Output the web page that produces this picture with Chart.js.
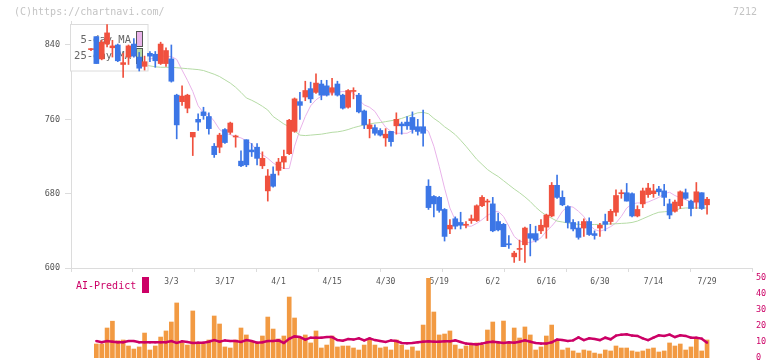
<!DOCTYPE html>
<html lang="ja">
<head>
<meta charset="UTF-8">
<title>7212</title>
<script src="https://cdn.jsdelivr.net/npm/chart.js@4.4.1/dist/chart.umd.min.js"></script>
<style>
  body { margin: 0; background: #fff; overflow: hidden; }
  .wrap { position: relative; width: 772px; height: 361px; overflow: hidden; }
  .wrap canvas { position: absolute; left: 0; top: 0; }
</style>
</head>
<body>
<div class="wrap">
  <canvas id="priceChart" width="772" height="361"></canvas>
  <canvas id="volChart" width="772" height="372"></canvas>
</div>
<script>
// daily candles, 2/6 .. 7/29 (index 0 .. 115)
let open = [835,849,825,841,837,840,819,827,841,827,817,831,830,820,820,825,786,779,772,741,
  760,768,763,731,730,749,746,741,715,738,727,730,710,683,701,705,714,723,747,779,
  784,793,789,798,796,789,798,786,773,790,786,769,750,751,748,740,747,753,755,757,
  762,752,752,688,677,676,663,642,653,649,646,651,651,667,671,669,650,647,626,612,
  620,625,637,637,640,644,656,689,676,666,649,643,643,650,637,643,650,650,660,680,
  681,680,656,669,679,680,685,683,669,661,667,681,672,671,681,668];
let high = [836,849,845,862,845,841,831,840,847,832,828,833,833,843,837,840,787,796,787,746,
  766,773,767,734,745,750,757,743,726,738,734,734,725,706,709,718,727,760,783,789,
  801,800,809,802,802,804,801,787,792,794,788,770,760,754,750,750,747,767,757,763,
  768,760,770,695,678,677,664,652,655,660,650,657,668,678,674,676,659,648,635,618,
  630,644,647,645,652,658,692,700,683,667,652,650,653,654,640,648,658,663,684,684,
  691,681,667,686,691,690,688,690,674,673,683,685,673,692,681,676];
let low = [834,820,824,838,827,822,805,819,827,812,813,822,816,819,817,800,739,775,767,721,
  748,760,744,719,724,734,744,730,709,709,720,711,707,672,687,700,707,722,746,760,
  780,778,788,781,785,786,785,771,772,782,767,750,740,743,742,731,731,744,744,749,
  745,743,731,663,655,660,629,637,642,642,643,648,650,666,651,639,640,623,621,606,
  608,606,613,628,637,632,655,675,667,643,640,631,634,635,631,634,640,647,656,675,
  672,655,655,665,676,676,678,667,653,660,664,674,656,664,663,658];
let close = [836,820,843,853,839,823,821,839,828,815,822,828,823,841,834,801,754,785,786,746,
  757,764,750,722,743,735,756,742,710,711,725,718,718,699,688,714,720,759,782,775,
  791,782,799,786,786,794,786,772,791,791,768,754,754,745,743,744,736,760,753,753,
  749,747,745,665,669,662,634,646,645,646,647,653,667,676,672,640,641,623,625,616,
  621,643,632,630,646,657,689,676,668,649,642,633,650,636,635,646,647,661,678,681,
  672,656,663,683,686,683,682,676,657,671,682,675,664,682,664,674];

// moving averages as drawn on the chart
let ma5 = [838,837,836,838,839,836,833,832,830,826,824,825,826,828,828,827.5,824.5,813,802,790,
  774.5,767,765,758,749,745,743.5,741.5,740,737,733.5,725.5,722,718,713,709.5,707,707,731,748.5,
  763,774.5,781,785,786.5,788,789,790,790,788,781,775.5,773,768.5,759.5,751.5,747,745,745,745,
  748,751,751,747,731,709.5,686,664.5,651.5,648,645,645,648,652,656.5,660,661,655.5,645,634,
  629,627.5,627.5,629,632.5,639.5,645,652,661,666.5,665.5,661,655.5,646.5,641.5,639.5,641.5,644.5,648.5,655.5,
  664.5,669,670,670,671,673.5,676,680,681.5,678,675.5,673.5,671,670,670.5,670.5];
let ma25 = [822,822,821,821,821,820,820,819,819,819,818.5,817.5,816.5,816,816,816,815.5,815,814.5,814,
  813.5,812.5,810.5,808.5,806,802.5,799,794.5,789,783,780.5,777.5,774,770,763,759,755,752,747.5,743,
  742.5,743,743.5,744,745,746,746.5,747.5,749,751,752.5,754,755,756,756.5,757.5,758.5,759.5,761,763,
  765,767,767.5,766,761,757,752,748,743.5,737.5,731,724,717,711.5,706,702,698.5,694,689.5,685,
  681,676.5,671.5,665.5,660.5,656.5,653.5,650.5,649.5,648.5,647.5,647,646.7,646.7,646.8,647,647.2,647.4,647.6,648,
  648.3,649,650.5,653,655.5,658,660,660.5,661,662,664,664.6,664.6,664.6,664.6,664.6];

// lower panel: volume (relative) and AI-Predict (right axis 0-50)
let volume = [null,8.75,8.75,18.75,23,10.8,11.25,7.5,5.6,6.9,15.6,5,7.5,13.1,16.9,22.5,34.4,9.4,8.1,29.4,
  8.75,8.75,11.25,26.25,21.25,6.9,6.25,11.25,18.75,14.4,10,9.4,13.75,25.6,18.1,11.9,13.75,38.1,25,13,
  14.4,9.4,16.9,6.25,8.1,13.75,6.9,7.5,7.5,6.25,5,8.1,11.9,8.1,6.25,6.9,5,11.25,8.1,5,
  6.9,4.4,20.6,50,28.75,14.4,15,16.9,8.1,5.6,7.5,8.1,9.4,8.1,17.5,22.5,9.4,23.1,9.4,18.75,
  12.5,19.4,14.4,5,6.9,13.75,20.6,11.25,5,6.25,4.4,3.1,5,4.4,3.1,2.5,5,4.4,7.5,6.25,
  6.25,4.4,3.75,4.4,5.6,6.25,3.75,4.4,9.4,7.5,8.75,5,6.9,11.9,4.4,11.25];
let aiPredict = [null,10.6,9.8,10.6,10.2,9.8,9.8,10.6,10.6,9.8,9.8,9.8,9.8,9.8,9.8,10.6,9.4,10.4,10,9.4,
  9.6,9.6,10.2,11.2,10.2,11,10.6,10.6,10,11.2,10.6,9.6,9.8,10.6,10.6,11,9.4,12,13.5,13.1,
  11.5,12.7,12.7,12.7,13.1,13.1,11.2,10.8,11.9,11.5,12.3,11,12.3,11.2,10.6,10,11,10.6,9.4,9.2,
  9.4,9.8,10.2,10.4,10.2,10.2,10.4,10.4,11,10,9,8.8,8.5,9,9.8,10.2,9.8,9.4,9.8,9.6,
  10.2,11,10.2,9.4,9,9,9.8,11.5,11.2,10.6,11,12.9,11.2,12.3,11.9,11.2,12.7,11.7,14,14.6,
  14.8,14,13.8,12.3,11.2,12.7,14.2,13.8,14.6,13.1,14.2,13.8,12.7,12.7,12.1,9.6];

// x-axis date labels and the candle index they sit on
let dateLabels = ['3/3','3/17','4/1','4/15','4/30','5/19','6/2','6/16','6/30','7/14','7/29'];
let dateIdx = [15,25,35,45,55,65,75,85,95,105,115];

let priceTicks = [600,680,760,840];
let aiTicks = [0,10,20,30,40,50];

const X_MIN = -3.733, X_MAX = 123.39;
const UP = '#f0513e', DOWN = '#3c76e6';
const MONO = '"DejaVu Sans Mono", monospace';

// evenly spaced tick marks along the bottom axis
let gridMarks = [];
for (let k = 0; k <= 11; k++) gridMarks.push(X_MIN + k * (X_MAX - X_MIN) / 11);

let candleColors = close.map((c, i) => c >= open[i] ? UP : DOWN);

const legendBox = {
    id: 'legendBox',
    beforeDatasetDraw(chart, args) {
        if (args.index !== 2) return;
        const ctx = chart.ctx;
        ctx.save();
        ctx.fillStyle = '#fff';
        ctx.fillRect(70.5, 24.5, 77.5, 46.5);
        ctx.strokeStyle = '#dcdcdc';
        ctx.lineWidth = 1;
        ctx.strokeRect(70.5, 24.5, 77.5, 46.5);
        ctx.font = '10.5px ' + MONO;
        ctx.fillStyle = '#666';
        ctx.textAlign = 'right';
        ctx.textBaseline = 'middle';
        ctx.fillText('5-day MA', 131, 40);
        ctx.fillText('25-day MA', 131, 56.5);
        ctx.fillStyle = '#e9b3ea';
        ctx.fillRect(136.5, 31.5, 6, 15);
        ctx.fillStyle = '#b5dba5';
        ctx.fillRect(136.5, 48.5, 6, 15);
        ctx.strokeStyle = '#555';
        ctx.strokeRect(136.5, 31.5, 6, 15);
        ctx.strokeRect(136.5, 48.5, 6, 15);
        ctx.restore();
    },
    afterDraw(chart) {
        const ctx = chart.ctx;
        ctx.save();
        ctx.font = '10px ' + MONO;
        ctx.fillStyle = '#c4c4c4';
        ctx.textBaseline = 'middle';
        ctx.textAlign = 'left';
        ctx.fillText('(C)https://chartnavi.com/', 14, 12);
        ctx.textAlign = 'right';
        ctx.fillText('7212', 757, 12);
        ctx.restore();
    }
};

new Chart(document.getElementById('priceChart'), {
    type: 'bar',
    data: {
        datasets: [{
            type: 'line',
            label: '5-day MA',
            data: ma5.map((v, i) => ({ x: i, y: v })),
            borderColor: '#e9b3ea',
            borderWidth: 1,
            pointRadius: 0,
            order: 10
        }, {
            type: 'line',
            label: '25-day MA',
            data: ma25.map((v, i) => ({ x: i, y: v })),
            borderColor: '#b5dba5',
            borderWidth: 1,
            pointRadius: 0,
            order: 9
        }, {
            label: 'wick',
            data: low.map((v, i) => ({ x: i, y: [v, high[i]] })),
            backgroundColor: candleColors,
            barThickness: 1,
            grouped: false,
            order: 5
        }, {
            label: 'body',
            data: open.map((v, i) => ({ x: i, y: [v, close[i]] })),
            backgroundColor: candleColors,
            barThickness: 5,
            minBarLength: 1,
            grouped: false,
            order: 1
        }]
    },
    options: {
        responsive: false,
        animation: false,
        devicePixelRatio: 1,
        layout: { padding: { top: 21, right: 20, left: 0, bottom: 0 } },
        plugins: { legend: { display: false }, tooltip: { enabled: false } },
        scales: {
            x: {
                type: 'linear',
                min: X_MIN,
                max: X_MAX,
                offset: false,
                afterBuildTicks: s => { s.ticks = gridMarks.concat(dateIdx).map(v => ({ value: v })); },
                afterFit: s => { s.height = 93; },
                grid: {
                    offset: false,
                    drawOnChartArea: false,
                    tickLength: 4,
                    color: c => (c.tick && dateIdx.includes(c.tick.value)) ? 'rgba(0,0,0,0)' : '#dcdcdc'
                },
                border: { color: '#dcdcdc' },
                ticks: {
                    autoSkip: false,
                    maxRotation: 0,
                    padding: 5,
                    color: '#555',
                    font: { family: MONO, size: 8 },
                    callback: v => { const k = dateIdx.indexOf(v); return k >= 0 ? dateLabels[k] : ''; }
                }
            },
            y: {
                min: 600,
                max: 865.8,
                afterBuildTicks: s => { s.ticks = priceTicks.map(v => ({ value: v })); },
                afterFit: s => { s.width = 71; },
                grid: { drawOnChartArea: false, tickLength: 6, color: '#dcdcdc' },
                border: { color: '#dcdcdc' },
                ticks: { padding: 5, color: '#555', font: { family: MONO, size: 8.5 } }
            }
        }
    },
    plugins: [legendBox]
});

const aiLabel = {
    id: 'aiLabel',
    afterDraw(chart) {
        const ctx = chart.ctx;
        ctx.save();
        ctx.font = '10px ' + MONO;
        ctx.fillStyle = '#cc0066';
        ctx.textAlign = 'left';
        ctx.textBaseline = 'middle';
        ctx.fillText('AI-Predict', 76, 286);
        ctx.fillRect(142, 277, 7, 16);
        ctx.restore();
    }
};

// the lower canvas is a little taller than the page so that the 0 line sits at y=358
new Chart(document.getElementById('volChart'), {
    type: 'bar',
    data: {
        datasets: [{
            type: 'line',
            label: 'AI-Predict',
            yAxisID: 'ai',
            data: aiPredict.map((v, i) => ({ x: i, y: v })),
            borderColor: '#cc0066',
            borderWidth: 2.5,
            pointStyle: 'rect',
            pointRadius: 1.5,
            pointBackgroundColor: '#cc0066',
            pointBorderWidth: 0,
            order: 1
        }, {
            label: 'volume',
            yAxisID: 'vol',
            data: volume.map((v, i) => ({ x: i, y: v })),
            backgroundColor: '#f29a42',
            barThickness: 4,
            grouped: false,
            order: 2
        }]
    },
    options: {
        responsive: false,
        animation: false,
        devicePixelRatio: 1,
        layout: { padding: { top: 278, right: 0, left: 71, bottom: 14 } },
        plugins: { legend: { display: false }, tooltip: { enabled: false } },
        scales: {
            x: { type: 'linear', min: X_MIN, max: X_MAX, offset: false, display: false },
            vol: { position: 'left', min: 0, max: 50, display: false },
            ai: {
                position: 'right',
                min: 0,
                max: 50,
                afterBuildTicks: s => { s.ticks = aiTicks.map(v => ({ value: v })); },
                afterFit: s => { s.width = 20; },
                grid: { display: false, drawTicks: false },
                border: { display: false },
                ticks: { padding: 4, color: '#cc0066', font: { family: MONO, size: 8.5 } }
            }
        }
    },
    plugins: [aiLabel]
});
</script>
</body>
</html>
